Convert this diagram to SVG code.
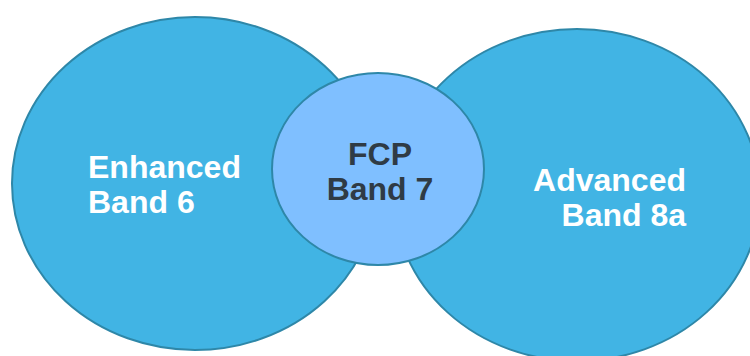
<svg xmlns="http://www.w3.org/2000/svg" width="750" height="356" viewBox="0 0 750 356">
<style>
.big{fill:#41b4e4;stroke:#2e87a8;stroke-width:2}
.mid{fill:#7fbfff;stroke:#2e87a8;stroke-width:2}
text{font-family:"Liberation Sans",Arial,sans-serif;font-weight:bold;font-size:32px}
.w{fill:#ffffff}
.d{fill:#2f3b45}
</style>
<rect width="750" height="356" fill="#ffffff"/>
<g id="enhanced">
<ellipse class="big" cx="195" cy="183.5" rx="183" ry="166.5"/>
<text class="w" x="88" y="178">Enhanced</text>
<text class="w" x="88" y="213">Band 6</text>
</g>
<g id="advanced">
<ellipse class="big" cx="577" cy="195" rx="183" ry="166"/>
<text class="w" x="686" y="191" text-anchor="end">Advanced</text>
<text class="w" x="686" y="226" text-anchor="end">Band 8a</text>
</g>
<g id="fcp">
<ellipse class="mid" cx="378" cy="169" rx="106" ry="96"/>
<text class="d" x="380" y="165" text-anchor="middle">FCP</text>
<text class="d" x="380" y="200" text-anchor="middle">Band 7</text>
</g>
<g id="connectors"/>
</svg>
